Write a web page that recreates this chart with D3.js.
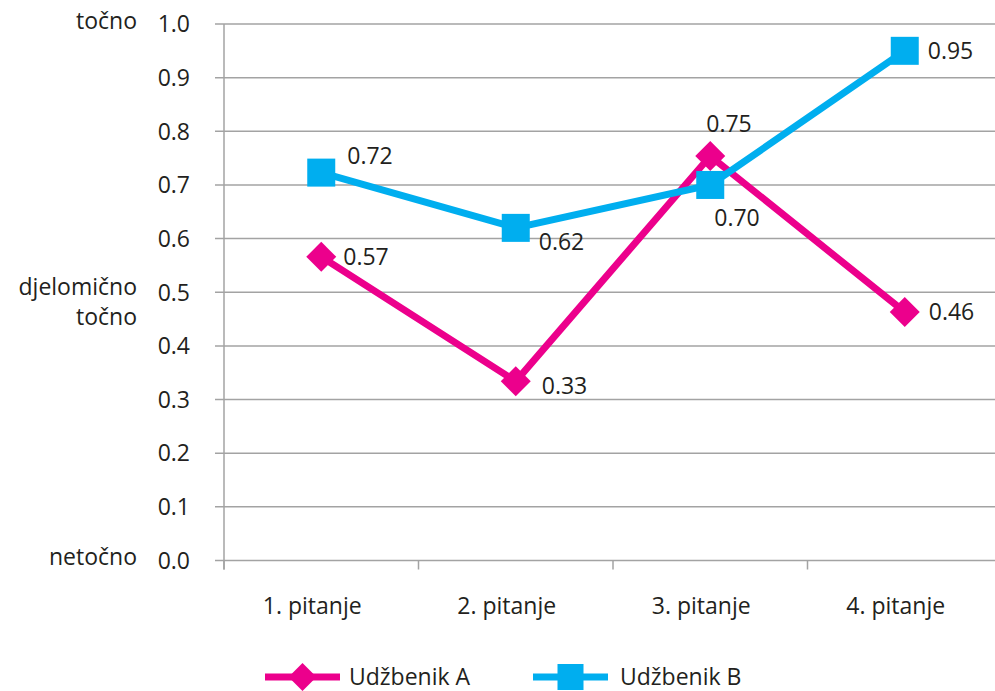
<!DOCTYPE html>
<html><head><meta charset="utf-8">
<script src="https://cdn.jsdelivr.net/npm/d3@7"></script>
<style>
html,body{margin:0;padding:0;background:#fff;}
svg text{font-family:"Open Sans","Noto Sans",sans-serif;fill:#231f20;}
</style></head>
<body>
<svg id="chart" width="995" height="691"></svg>
<script>
const categories = ["1. pitanje", "2. pitanje", "3. pitanje", "4. pitanje"];
const seriesNames = ["Udžbenik A", "Udžbenik B"];
const valuesA = [0.566, 0.334, 0.754, 0.463];
const valuesB = [0.723, 0.62, 0.70, 0.95];
const yTicks = [0, 0.1, 0.2, 0.3, 0.4, 0.5, 0.6, 0.7, 0.8, 0.9, 1.0];
const yCategoryLabels = [
  {value: 1.0, lines: ["točno"]},
  {value: 0.5, lines: ["djelomično", "točno"]},
  {value: 0.0, lines: ["netočno"]}
];

// label placement (style): offsets from point, per series
const labelOffsets = [
  [[22, 0], [26, 4], [-4, -32], [24, 0]],
  [[26, -17], [23, 14], [4, 33], [23, 0]]
];

const colors = ["#ec008c", "#00aeef"];
const series = [
  {name: seriesNames[0], values: valuesA, color: colors[0], marker: "diamond"},
  {name: seriesNames[1], values: valuesB, color: colors[1], marker: "square"}
];

const FS = 23;
const svg = d3.select("#chart");
const pLeft = 224, pTop = 24, pBottom = 560.5, pRight = 1002;

const x = d3.scaleBand().domain(categories).range([pLeft, pRight]);
const y = d3.scaleLinear().domain([0, 1]).range([pBottom, pTop]);

// gridlines
svg.append("g").selectAll("line").data(yTicks).join("line")
  .attr("x1", pLeft - 9).attr("x2", pRight)
  .attr("y1", d => y(d)).attr("y2", d => y(d))
  .attr("stroke", "#a3a3a3").attr("stroke-width", 1.5);

// y axis line
svg.append("line").attr("x1", pLeft).attr("x2", pLeft)
  .attr("y1", pTop).attr("y2", pBottom + 9)
  .attr("stroke", "#a3a3a3").attr("stroke-width", 1.5);

// x ticks at band boundaries
svg.append("g").selectAll("line").data(categories).join("line")
  .attr("x1", d => x(d)).attr("x2", d => x(d))
  .attr("y1", pBottom).attr("y2", pBottom + 9)
  .attr("stroke", "#a3a3a3").attr("stroke-width", 1.5);

// y tick labels
svg.append("g").selectAll("text").data(yTicks).join("text")
  .attr("x", 190).attr("y", d => y(d))
  .attr("dy", "0.36em")
  .attr("text-anchor", "end")
  .attr("font-size", FS)
  .text(d => d.toFixed(1));

// y category labels
yCategoryLabels.forEach(c => {
  const n = c.lines.length;
  c.lines.forEach((ln, i) => {
    svg.append("text")
      .attr("x", 137).attr("y", y(c.value) + (n > 1 ? -2 + i * 30 : 0))
      .attr("dy", "0.2em")
      .attr("text-anchor", "end")
      .attr("font-size", FS)
      .text(ln);
  });
});

// x labels
svg.append("g").selectAll("text").data(categories).join("text")
  .attr("x", d => x(d) + x.bandwidth() / 2 - 9).attr("y", 614)
  .attr("text-anchor", "middle")
  .attr("font-size", FS)
  .text(d => d);

const line = d3.line().x((d, i) => x(categories[i]) + x.bandwidth() / 2).y(d => y(d));

function drawMarker(g, type, cx, cy, color, size) {
  if (type === "square") {
    g.append("rect").attr("x", cx - size / 2).attr("y", cy - size / 2)
      .attr("width", size).attr("height", size).attr("fill", color);
  } else {
    const h = size / 2;
    g.append("path").attr("d", `M${cx},${cy - h}L${cx + h},${cy}L${cx},${cy + h}L${cx - h},${cy}Z`)
      .attr("fill", color);
  }
}

series.forEach((s, si) => {
  const g = svg.append("g");
  g.append("path").datum(s.values).attr("d", line)
    .attr("fill", "none").attr("stroke", s.color).attr("stroke-width", 7)
    .attr("stroke-linejoin", "miter");
  s.values.forEach((v, i) => {
    const cx = x(categories[i]) + x.bandwidth() / 2, cy = y(v);
    drawMarker(g, s.marker, cx, cy, s.color, s.marker === "square" ? 28 : 30);
  });
});

// data labels on top
series.forEach((s, si) => {
  s.values.forEach((v, i) => {
    const cx = x(categories[i]) + x.bandwidth() / 2, cy = y(v);
    const o = labelOffsets[si][i];
    svg.append("text").attr("x", cx + o[0]).attr("y", cy + o[1])
      .attr("dy", "0.36em").attr("font-size", FS)
      .text(v.toFixed(2));
  });
});

// legend
const legendItems = [
  {x0: 265, x1: 340, tx: 349},
  {x0: 533, x1: 608, tx: 620}
];
series.forEach((s, si) => {
  const L = legendItems[si];
  const ly = 677;
  const g = svg.append("g");
  g.append("line").attr("x1", L.x0).attr("x2", L.x1).attr("y1", ly).attr("y2", ly)
    .attr("stroke", s.color).attr("stroke-width", 7);
  drawMarker(g, s.marker, (L.x0 + L.x1) / 2, ly, s.color, s.marker === "square" ? 26 : 28);
  g.append("text").attr("x", L.tx).attr("y", ly).attr("dy", "0.36em")
    .attr("font-size", FS).text(s.name);
});
</script>
</body></html>
